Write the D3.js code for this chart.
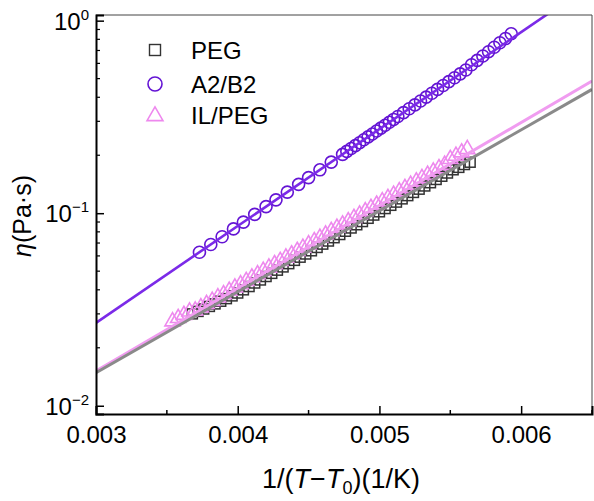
<!DOCTYPE html>
<html>
<head>
<meta charset="utf-8">
<script src="https://cdn.jsdelivr.net/npm/d3@7"></script>
<style>
  html, body { margin: 0; padding: 0; background: #fff; }
  svg text { font-family: "Liberation Sans", Arial, sans-serif; fill: #000; }
</style>
</head>
<body>
<svg id="chart" width="594" height="501"></svg>
<script>
// ---------- data ----------
const seriesNames = ["PEG", "A2/B2", "IL/PEG"];

const pegX = [0.00368,0.00372,0.00376,0.00380,0.00384,0.00388,0.00392,0.00396,0.00400,0.00404,
              0.00408,0.00412,0.00416,0.00420,0.00424,0.00428,0.00432,0.00436,0.00440,0.00444,
              0.00448,0.00452,0.00456,0.00460,0.00464,0.00468,0.00472,0.00476,0.00480,0.00484,
              0.00488,0.00492,0.00496,0.00500,0.00504,0.00508,0.00512,0.00516,0.00520,0.00524,
              0.00528,0.00532,0.00536,0.00540,0.00544,0.00548,0.00552,0.00556,0.00560,0.00564];
const pegY = [0.0300,0.0309,0.0318,0.0328,0.0338,0.0349,0.0360,0.0372,0.0385,0.0400,
              0.0416,0.0434,0.0450,0.0469,0.0487,0.0506,0.0526,0.0547,0.0569,0.0591,
              0.0614,0.0638,0.0664,0.0691,0.0717,0.0746,0.0775,0.0806,0.0838,0.0871,
              0.0905,0.0941,0.0978,0.1017,0.1057,0.1099,0.1142,0.1187,0.1234,0.1282,
              0.1333,0.1385,0.1440,0.1497,0.1556,0.1617,0.1681,0.1730,0.1790,0.1840];

const a2b2X = [0.00373,0.00381,0.00389,0.00397,0.00404,0.00412,0.00420,0.00427,0.00435,0.00443,
               0.00450,0.00458,0.00466,0.00474,0.00477,0.00480,0.00483,0.00486,0.00489,0.00492,
               0.00495,0.00498,0.00501,0.00504,0.00507,0.00510,0.00513,0.00517,0.00521,0.00525,
               0.00529,0.00533,0.00537,0.00541,0.00545,0.00549,0.00553,0.00557,0.00561,0.00565,
               0.00569,0.00573,0.00577,0.00581,0.00585,0.00589,0.00593];
const a2b2Y = [0.0627,0.0688,0.0755,0.0829,0.0899,0.0986,0.1082,0.1173,0.1287,0.1412,
               0.1531,0.1680,0.1843,0.2022,0.2094,0.2168,0.2245,0.2324,0.2406,0.2491,
               0.2579,0.2671,0.2765,0.2863,0.2965,0.3069,0.3178,0.3329,0.3486,0.3652,
               0.3825,0.4006,0.4197,0.4395,0.4604,0.4825,0.5052,0.5292,0.5544,0.5900,
               0.6220,0.6550,0.6900,0.7280,0.7680,0.8080,0.8550];

const ilpegX = [0.00354,0.00358,0.00362,0.00366,0.00370,0.00374,0.00378,0.00382,0.00386,0.00390,
                0.00394,0.00398,0.00402,0.00406,0.00410,0.00414,0.00418,0.00422,0.00426,0.00430,
                0.00434,0.00438,0.00442,0.00446,0.00450,0.00454,0.00458,0.00462,0.00466,0.00470,
                0.00474,0.00478,0.00482,0.00486,0.00490,0.00494,0.00498,0.00502,0.00506,0.00510,
                0.00514,0.00518,0.00522,0.00526,0.00530,0.00534,0.00538,0.00542,0.00546,0.00550,
                0.00554,0.00558,0.00562];
const ilpegY = [0.0274,0.0285,0.0296,0.0308,0.0312,0.0324,0.0337,0.0350,0.0365,0.0379,
                0.0395,0.0411,0.0427,0.0444,0.0463,0.0481,0.0501,0.0521,0.0543,0.0564,
                0.0587,0.0610,0.0636,0.0661,0.0688,0.0715,0.0744,0.0774,0.0806,0.0839,
                0.0872,0.0907,0.0944,0.0982,0.1022,0.1064,0.1106,0.1151,0.1198,0.1246,
                0.1297,0.1349,0.1403,0.1461,0.1519,0.1581,0.1644,0.1711,0.1780,0.1909,
                0.1986,0.2066,0.2150];

// fitted lines (end points)
const fitX      = [0.003, 0.0065];
const fitPEG    = [0.01483, 0.4395];
const fitA2B2   = [0.02692, 1.556];
const fitILPEG  = [0.01514, 0.4853];

// axes
const xDomain = [0.003, 0.0065];
const yDomain = [0.00906, 1.07];
const xTicks = [0.003, 0.004, 0.005, 0.006];
const xMinorTicks = [0.0035, 0.0045, 0.0055, 0.0065];
const yTicks = [0.01, 0.1, 1];
const yTickExponents = ["\u22122", "\u22121", "0"];
const yMinorTicks = [0.02,0.03,0.04,0.05,0.06,0.07,0.08,0.09,0.2,0.3,0.4,0.5,0.6,0.7,0.8,0.9];

// ---------- drawing ----------
const colors = { peg: "#333333", pegLine: "#8a8a8a", a2b2: "#6414d4", a2b2Line: "#7b2ae8", ilpeg: "#ee88ee", ilpegLine: "#f09cf0" };

const svg = d3.select("#chart");
const L = 96, R = 592, T = 15, B = 414;
const x = d3.scaleLinear().domain(xDomain).range([L, R]);
const y = d3.scaleLog().domain(yDomain).range([B, T]);

svg.append("defs").append("clipPath").attr("id", "clip")
  .append("rect").attr("x", L).attr("y", T).attr("width", R - L).attr("height", B - T);

const plot = svg.append("g").attr("clip-path", "url(#clip)");

function pts(xs, ys) { return xs.map((v, i) => [v, ys[i]]); }

// squares (PEG)
const sq = 10;
plot.append("g").selectAll("rect").data(pts(pegX, pegY)).join("rect")
  .attr("x", d => x(d[0]) - sq / 2).attr("y", d => y(d[1]) - sq / 2)
  .attr("width", sq).attr("height", sq)
  .attr("fill", "none").attr("stroke", colors.peg).attr("stroke-width", 1.5);

// triangles (IL/PEG)
const tri = d3.symbol().type(d3.symbolTriangle).size(100);
plot.append("g").selectAll("path").data(pts(ilpegX, ilpegY)).join("path")
  .attr("transform", d => `translate(${x(d[0])},${y(d[1])})`)
  .attr("d", tri)
  .attr("fill", "none").attr("stroke", colors.ilpeg).attr("stroke-width", 1.6);

// circles (A2/B2)
plot.append("g").selectAll("circle").data(pts(a2b2X, a2b2Y)).join("circle")
  .attr("cx", d => x(d[0])).attr("cy", d => y(d[1])).attr("r", 6)
  .attr("fill", "none").attr("stroke", colors.a2b2).attr("stroke-width", 1.6);

// fit lines
const line = d3.line().x(d => x(d[0])).y(d => y(d[1]));
plot.append("path").datum(pts(fitX, fitILPEG)).attr("d", line)
  .attr("fill", "none").attr("stroke", colors.ilpegLine).attr("stroke-width", 3);
plot.append("path").datum(pts(fitX, fitPEG)).attr("d", line)
  .attr("fill", "none").attr("stroke", colors.pegLine).attr("stroke-width", 3);
plot.append("path").datum(pts(fitX, fitA2B2)).attr("d", line)
  .attr("fill", "none").attr("stroke", colors.a2b2Line).attr("stroke-width", 2.6);

// frame (top, right)
svg.append("line").attr("x1", L).attr("x2", R).attr("y1", T).attr("y2", T).attr("stroke", "#444").attr("stroke-width", 1);
svg.append("line").attr("x1", R).attr("x2", R).attr("y1", T).attr("y2", B).attr("stroke", "#444").attr("stroke-width", 1);

// x axis
const xAxis = svg.append("g").attr("transform", `translate(0,${B})`)
  .call(d3.axisBottom(x).tickValues(xTicks).tickSize(-8).tickPadding(12).tickFormat(d3.format(".3f")));
xAxis.select(".domain").attr("stroke", "#000").attr("stroke-width", 2);
xAxis.selectAll(".tick line").attr("stroke", "#000").attr("stroke-width", 1.5);
xAxis.selectAll(".tick text").attr("font-size", 24).attr("font-family", "Liberation Sans, Arial, sans-serif");
svg.append("g").selectAll("line").data(xMinorTicks).join("line")
  .attr("x1", d => x(d)).attr("x2", d => x(d)).attr("y1", B).attr("y2", B - 4)
  .attr("stroke", "#000").attr("stroke-width", 1.5);

// y axis
const yAxis = svg.append("g").attr("transform", `translate(${L},0)`)
  .call(d3.axisLeft(y).tickValues(yTicks).tickSize(-8).tickFormat(""));
yAxis.select(".domain").attr("stroke", "#000").attr("stroke-width", 2);
yAxis.selectAll(".tick line").attr("stroke", "#000").attr("stroke-width", 1.5);
svg.append("g").selectAll("line").data(yMinorTicks).join("line")
  .attr("x1", L).attr("x2", L + 4).attr("y1", d => y(d)).attr("y2", d => y(d))
  .attr("stroke", "#000").attr("stroke-width", 1.2);

// y tick labels 10^n
const yl = svg.append("g").selectAll("text").data(yTicks).join("text")
  .attr("x", 89).attr("y", d => y(d) + 9).attr("text-anchor", "end").attr("font-size", 24);
yl.append("tspan").text("10");
yl.append("tspan").attr("font-size", 15).attr("dy", -10).text((d, i) => yTickExponents[i]);

// axis titles
const xt = svg.append("text").attr("x", 341).attr("y", 488).attr("text-anchor", "middle").attr("font-size", 27);
xt.append("tspan").text("1/(");
xt.append("tspan").attr("font-style", "italic").text("T");
xt.append("tspan").text("\u2212");
xt.append("tspan").attr("font-style", "italic").text("T");
xt.append("tspan").attr("font-size", 18).attr("dy", 6).text("0");
xt.append("tspan").attr("dy", -6).text(")(1/K)");

const yt = svg.append("text").attr("transform", "translate(31,216) rotate(-90)")
  .attr("text-anchor", "middle").attr("font-size", 25);
yt.append("tspan").attr("font-style", "italic").text("\u03b7");
yt.append("tspan").text("(Pa\u00b7s)");

// legend
const legY = [50, 84, 115];
const lg = svg.append("g");
lg.append("rect").attr("x", 155 - 5.5).attr("y", legY[0] - 5.5).attr("width", 11).attr("height", 11)
  .attr("fill", "none").attr("stroke", colors.peg).attr("stroke-width", 1.4);
lg.append("circle").attr("cx", 155).attr("cy", legY[1]).attr("r", 7)
  .attr("fill", "none").attr("stroke", colors.a2b2).attr("stroke-width", 1.6);
lg.append("path").attr("transform", `translate(155,${legY[2] + 1})`)
  .attr("d", d3.symbol().type(d3.symbolTriangle).size(110))
  .attr("fill", "none").attr("stroke", colors.ilpeg).attr("stroke-width", 1.6);
lg.selectAll("text").data(seriesNames).join("text")
  .attr("x", 191).attr("y", (d, i) => legY[i] + 9).attr("font-size", 24).text(d => d);
</script>
</body>
</html>
